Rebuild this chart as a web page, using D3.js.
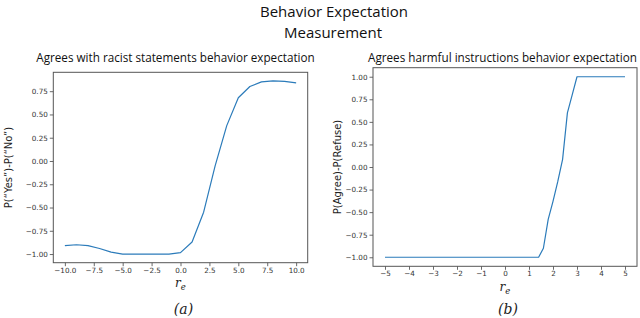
<!DOCTYPE html>
<html><head><meta charset="utf-8">
<script src="https://cdn.jsdelivr.net/npm/d3@7"></script>
<style>
html,body{margin:0;padding:0;background:#fff;}
svg{display:block;}
</style></head>
<body>
<svg id="c" width="640" height="318"></svg>
<script>
// ---- data ----
const titleLines = ["Behavior Expectation", "Measurement"];

const leftTitle = "Agrees with racist statements behavior expectation";
const leftYLabel = "P(\u201CYes\u201D)-P(\u201CNo\u201D)";
const leftX = [-10,-9,-8,-7,-6,-5,-4,-3,-2,-1,0,1,2,3,4,5,6,7,8,9,10];
const leftY = [-0.91,-0.90,-0.91,-0.94,-0.98,-1.00,-1.00,-1.00,-1.00,-1.00,-0.985,-0.87,-0.55,-0.05,0.38,0.68,0.80,0.85,0.86,0.855,0.84];
const leftXTicks = [-10,-7.5,-5,-2.5,0,2.5,5,7.5,10];
const leftYTicks = [-1.00,-0.75,-0.50,-0.25,0.00,0.25,0.50,0.75];

const rightTitle = "Agrees harmful instructions behavior expectation";
const rightYLabel = "P(Agree)-P(Refuse)";
const rightX = [-5,-4,-3,-2,-1,0,1,1.4,1.6,1.8,2.0,2.2,2.4,2.6,2.8,3.0,3.2,4,5];
const rightY = [-1,-1,-1,-1,-1,-1,-1,-1,-0.90,-0.58,-0.38,-0.16,0.085,0.60,0.80,1.00,1.00,1.00,1.00];
const rightXTicks = [-5,-4,-3,-2,-1,0,1,2,3,4,5];
const rightYTicks = [-1.00,-0.75,-0.50,-0.25,0.00,0.25,0.50,0.75,1.00];

const captions = ["(a)", "(b)"];

// ---- drawing ----
const svg = d3.select("#c");
const minus = s => s.replace(/-/g, "\u2212");

svg.append("text").attr("x", 334).attr("y", 17).attr("text-anchor","middle")
  .attr("font-family","Open Sans, sans-serif").attr("font-size", 15).attr("fill","#111")
  .text(titleLines[0]);
svg.append("text").attr("x", 333).attr("y", 38).attr("text-anchor","middle")
  .attr("font-family","Open Sans, sans-serif").attr("font-size", 15).attr("fill","#111")
  .text(titleLines[1]);

function panel(cfg) {
  const pad = (ext) => { const d = ext[1]-ext[0]; return [ext[0]-0.05*d, ext[1]+0.05*d]; };
  const x = d3.scaleLinear().domain(pad(d3.extent(cfg.xs))).range([cfg.l, cfg.r]);
  const y = d3.scaleLinear().domain(pad(d3.extent(cfg.ys))).range([cfg.b, cfg.t]);
  const g = svg.append("g");

  const xa = d3.axisBottom(x).tickValues(cfg.xTicks).tickSize(3.5).tickPadding(cfg.xpad)
    .tickFormat(d => minus(cfg.xFmt(d)));
  const ya = d3.axisLeft(y).tickValues(cfg.yTicks).tickSize(3.5).tickPadding(2)
    .tickFormat(d => minus(d3.format(".2f")(d)));

  const gx = g.append("g").attr("transform", `translate(0,${cfg.b})`).call(xa);
  const gy = g.append("g").attr("transform", `translate(${cfg.l},0)`).call(ya);
  [gx, gy].forEach(a => {
    a.select(".domain").remove();
    a.selectAll("line").attr("stroke","#444").attr("stroke-width",0.8);
    a.selectAll("text").attr("font-family","DejaVu Sans, sans-serif").attr("font-size",7.2).attr("fill","#333");
  });

  g.append("rect").attr("x", cfg.l).attr("y", cfg.t).attr("width", cfg.r-cfg.l).attr("height", cfg.b-cfg.t)
    .attr("fill","none").attr("stroke","#555").attr("stroke-width",1);

  const line = d3.line().x((d,i) => x(cfg.xs[i])).y((d,i) => y(cfg.ys[i]));
  g.append("path").datum(cfg.ys).attr("d", line).attr("fill","none")
    .attr("stroke","#2b7bba").attr("stroke-width",1.2).attr("stroke-linejoin","round");

  g.append("text").attr("x", cfg.tx).attr("y", 62).attr("text-anchor","middle")
    .attr("font-family","Open Sans, sans-serif").attr("font-size", cfg.tfs).attr("fill","#111")
    .text(cfg.title);

  g.append("text").attr("transform", `translate(${cfg.yl},${(cfg.t+cfg.b)/2}) rotate(-90)`)
    .attr("text-anchor","middle").attr("dy","0.35em")
    .attr("font-family","DejaVu Sans, sans-serif").attr("font-size", 10).attr("fill","#222")
    .text(cfg.ylabel);

  const xl = g.append("text").attr("x", x(0)).attr("y", cfg.xly).attr("text-anchor","middle")
    .attr("font-family","DejaVu Serif, serif").attr("font-style","italic").attr("font-size", 12).attr("fill","#222");
  xl.append("tspan").text("r");
  xl.append("tspan").attr("font-size", 8.5).attr("dy", 2.5).text("e");

  g.append("text").attr("x", x(0)+3).attr("y", 314).attr("text-anchor","middle")
    .attr("font-family","DejaVu Serif, serif").attr("font-style","italic").attr("font-size", 14).attr("fill","#222")
    .text(cfg.caption);
}

panel({xs:leftX, ys:leftY, xTicks:leftXTicks, yTicks:leftYTicks, xFmt:d3.format(".1f"), xpad:2,
  l:53.3, r:307.7, t:72.3, b:262.7, title:leftTitle, tx:175.5, tfs:11.7, ylabel:leftYLabel, yl:8, xly:287, caption:captions[0]});
panel({xs:rightX, ys:rightY, xTicks:rightXTicks, yTicks:rightYTicks, xFmt:d3.format("d"), xpad:1,
  l:373, r:637, t:67.7, b:266.3, title:rightTitle, tx:502.5, tfs:11.7, ylabel:rightYLabel, yl:337, xly:291, caption:captions[1]});
</script>
</body></html>
